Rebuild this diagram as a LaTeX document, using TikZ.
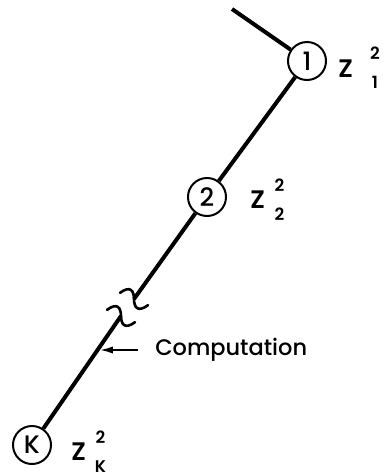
\documentclass[tikz,border=0pt]{standalone}
\usepackage{fontspec}
\setmainfont{Poppins}[UprightFont=* Medium]
\newfontfamily\lblfont{Poppins}[UprightFont=* SemiBold]
\usetikzlibrary{arrows.meta,positioning}
\newcommand{\idxsize}{\fontsize{12}{12}\selectfont}
\newcommand{\zsq}[2][0.3em]{Z\kern#1\rlap{\makebox[0.55em]{\raisebox{0.7em}{\idxsize 2}}}\makebox[0.55em]{\raisebox{-0.45em}{\idxsize #2}}}

\begin{document}
\begin{tikzpicture}[x=0.25mm,y=-0.25mm,>={Latex[length=3.2mm,width=1.8mm]},
  station/.style={draw,circle,line width=0.5mm,minimum size=9.5mm,inner sep=0pt,font=\fontsize{18}{18}\selectfont},
  zlabel/.style={inner sep=0pt,font=\lblfont\fontsize{18}{18}\selectfont},
  beam/.style={line width=1mm},
  brk/.style={line width=0.65mm,line cap=round}]
  \useasboundingbox (0,0) rectangle (388,476);
  % stations along the line
  \node[station] (n1) at (307,61) {1};
  \node[station] (n2) at (207,197) {2};
  \node[station] (nK) at (32,445) {K};
  \coordinate (top) at (232,9);
  \coordinate (brkA) at (134,299);
  \coordinate (brkB) at (121,316);
  \draw[beam] (top) -- (n1);
  \draw[beam] (n1) -- (n2);
  \draw[beam] (n2) -- (brkA);
  \draw[beam] (brkB) -- (nK);
  % break marks
  \foreach \c in {brkA,brkB}
    \draw[brk,shift={(\c)},rotate=-35] (-15,3) .. controls (-11,-9) and (-5,-7) .. (0,0) .. controls (5,7) and (11,9) .. (15,-3);
  \node[zlabel,right=2.75mm of n1,yshift=-1.75mm] (z1) {\zsq[0.6em]{1}};
  \node[zlabel,right=5.75mm of n2,yshift=-0.6mm] (z2) {\zsq{2}};
  \node[zlabel,right=4.75mm of nK,yshift=-1.6mm] (zK) {\zsq{K}};
  \coordinate (tip) at (100,348);
  \node[anchor=west,inner sep=0pt,font=\fontsize{16}{16}\selectfont] (comp) at (155,350) {Computation};
  \draw[->,line width=0.45mm,shorten <=4.25mm] (comp.west) -- (comp.west -| tip);
\end{tikzpicture}
\end{document}
